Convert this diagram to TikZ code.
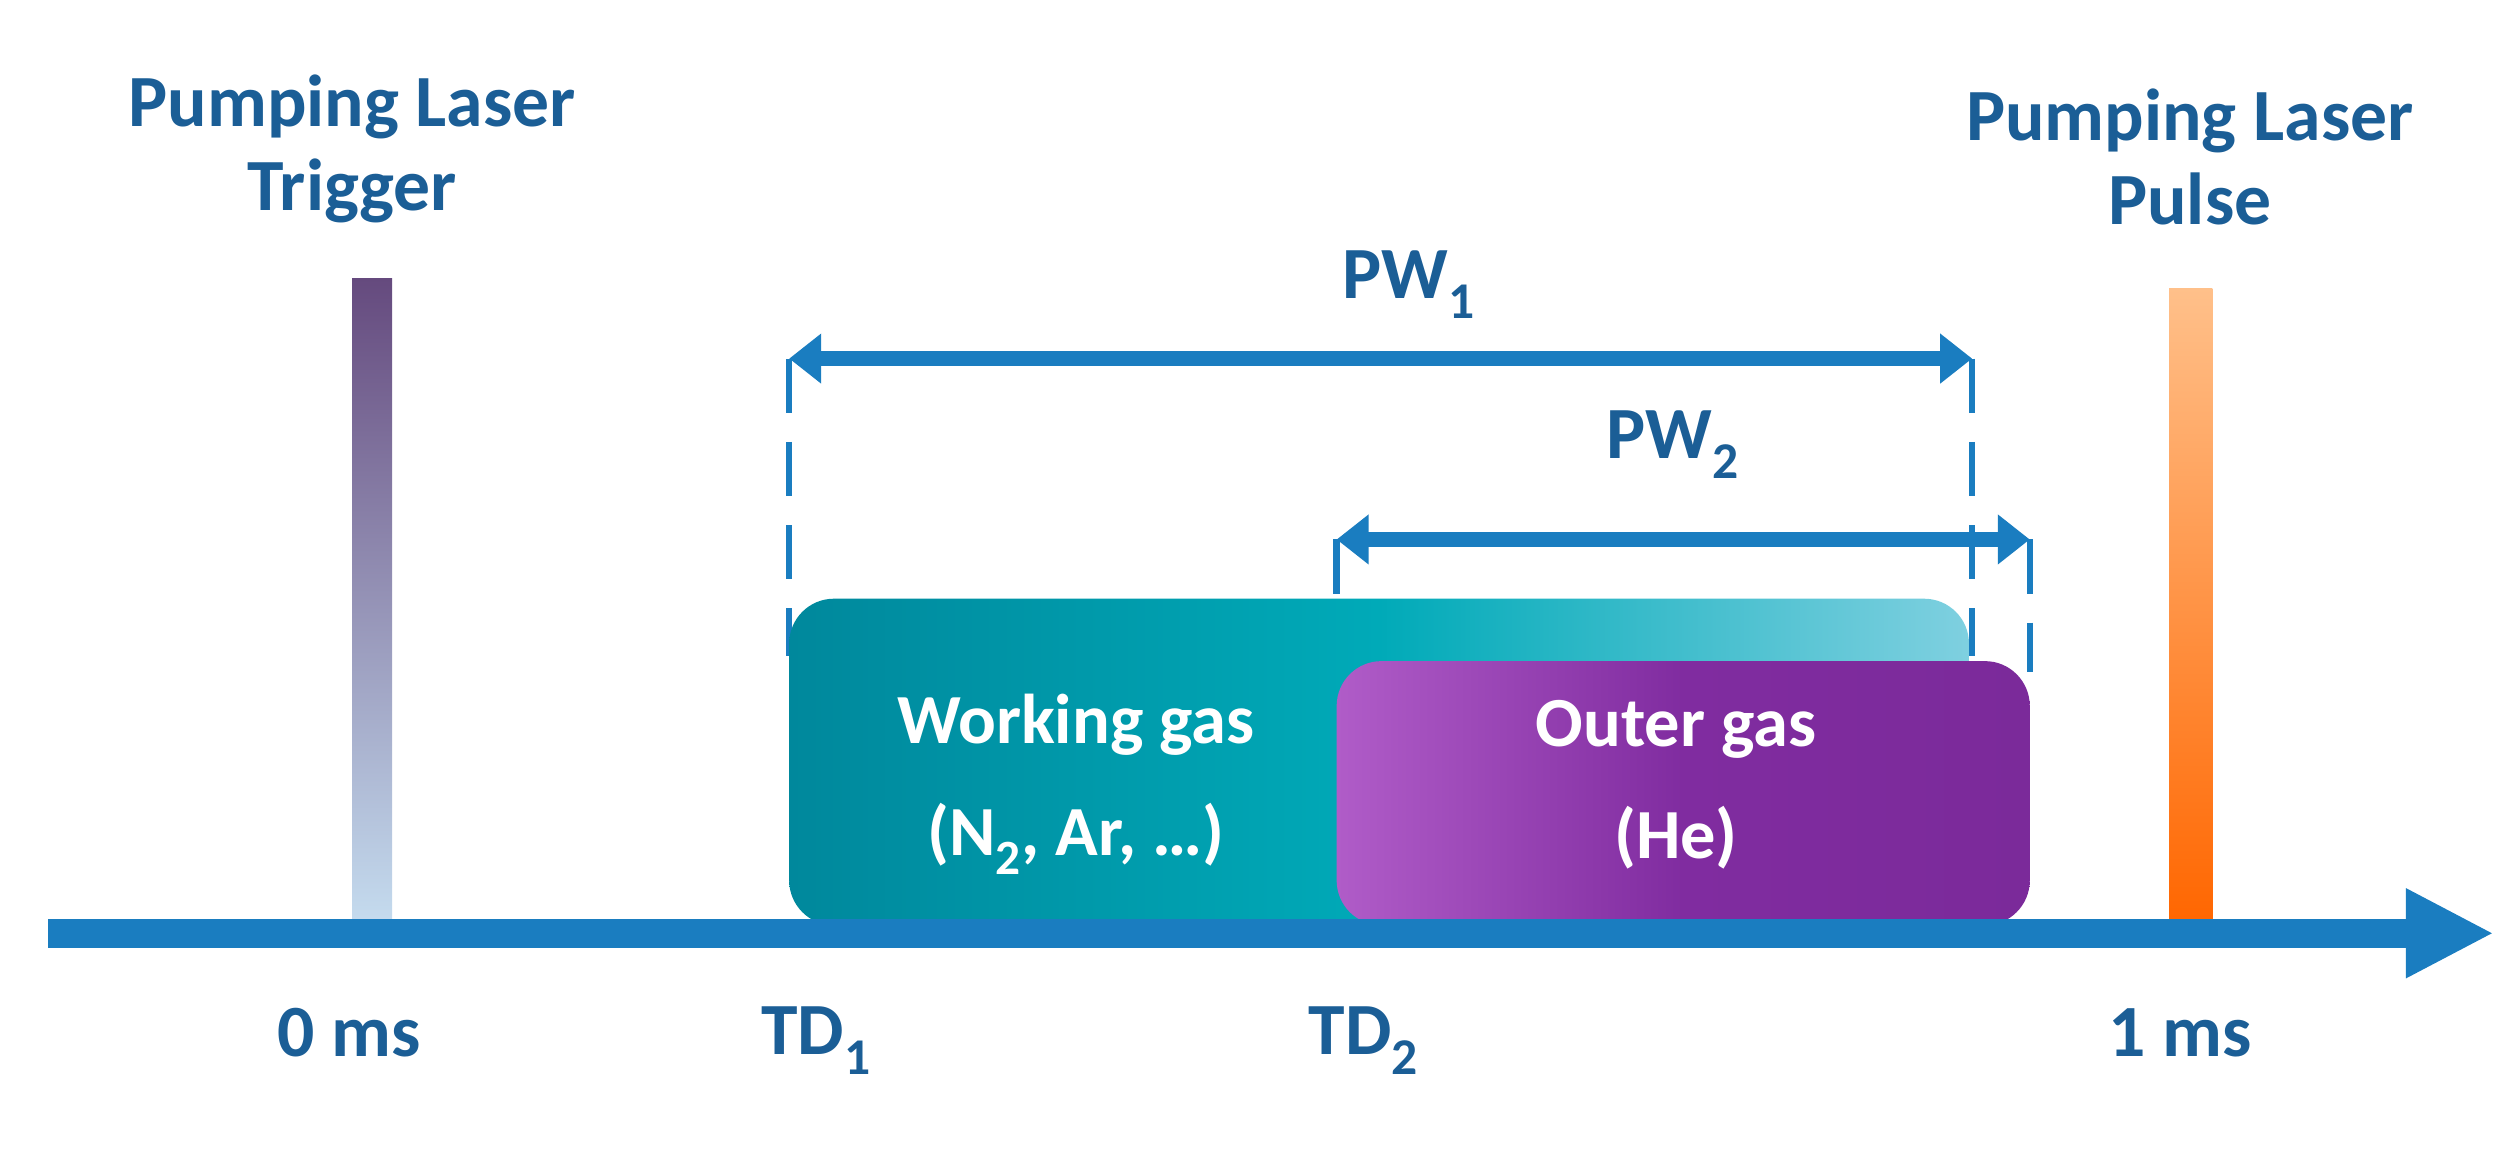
\documentclass[tikz,border=0pt]{standalone}
\usepackage{fontspec}
\setmainfont{Carlito}
\usetikzlibrary{arrows.meta}
\definecolor{axb}{HTML}{1A7DC0}
\definecolor{txt}{HTML}{1B5E96}
\begin{document}
\begin{tikzpicture}[x=1pt,y=-1pt,
  lab/.style={text=txt,font=\fontsize{46}{52}\selectfont\bfseries,align=center},
  wlab/.style={text=white,font=\fontsize{44}{70}\selectfont\bfseries,align=center},
  dim/.style={axb,line width=9pt,{Triangle[length=20pt,width=30pt]}-{Triangle[length=20pt,width=30pt]}},
  dsh/.style={axb,line width=4pt,dash pattern=on 34pt off 18pt}]
\useasboundingbox (0,0) rectangle (1568,720);
% bars
\shade[top color={rgb,255:red,101;green,74;blue,126},bottom color={rgb,255:red,197;green,220;blue,239}] (220,174) rectangle (245,578);
\shade[top color={rgb,255:red,255;green,192;blue,138},bottom color={rgb,255:red,255;green,102;blue,0}] (1355,180) rectangle (1382,578);
% dashed lines
\coordinate (d1a) at (493,224); \coordinate (d1b) at (493,410);
\coordinate (d2a) at (1232,224); \coordinate (d2b) at (1232,410);
\coordinate (d3a) at (835,337); \coordinate (d3b) at (835,413);
\coordinate (d4a) at (1268,337); \coordinate (d4b) at (1268,420);
\draw[dsh] (d1a)--(d1b); \draw[dsh] (d2a)--(d2b); \draw[dsh] (d3a)--(d3b); \draw[dsh] (d4a)--(d4b);
% boxes
\shade[left color={rgb,255:red,0;green,136;blue,156},right color={rgb,255:red,127;green,208;blue,224},middle color={rgb,255:red,0;green,170;blue,184},rounded corners=28pt] (493,374) rectangle (1230,578);
\shade[left color={rgb,255:red,176;green,92;blue,200},right color={rgb,255:red,123;green,42;blue,154},middle color={rgb,255:red,128;green,44;blue,160},rounded corners=28pt] (835,413) rectangle (1268,578);
\node[wlab] (wg) at (672,490) {Working gas\\(N\textsubscript{2}, Ar, …)};
\node[wlab] (og) at (1047,490) {Outer gas\\(He)};
% axis
\coordinate (ax0) at (30,583); \coordinate (ax1) at (1558,583);
\draw[axb,line width=18pt,-{Triangle[length=55pt,width=52pt]}] (ax0)--(ax1);
% dimension arrows
\draw[dim] (d1a)--(d2a);
\draw[dim] (d3a)--(d4a);
\node[lab] (pw1) at (880,178) {PW\textsubscript{1}};
\node[lab] (pw2) at (1045,278) {PW\textsubscript{2}};
% labels
\node[lab] (trig) at (220,93) {Pumping Laser\\Trigger};
\node[lab] (puls) at (1368,98) {Pumping Laser\\Pulse};
\node[lab] (t0) at (218,645) {0 ms};
\node[lab] (td1) at (510,650) {TD\textsubscript{1}};
\node[lab] (td2) at (852,650) {TD\textsubscript{2}};
\node[lab] (t1) at (1362,645) {1 ms};
\end{tikzpicture}
\end{document}
